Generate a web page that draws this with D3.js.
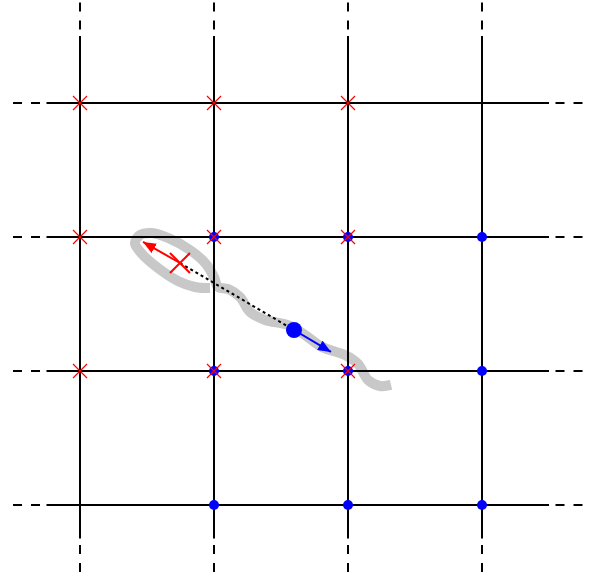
<!DOCTYPE html>
<html>
<head>
<meta charset="utf-8">
<script src="https://cdn.jsdelivr.net/npm/d3@7"></script>
<style>
html,body{margin:0;padding:0;background:#fff;}
svg{display:block;}
</style>
</head>
<body>
<svg id="chart" width="591" height="575"></svg>
<script>
// ---- data (grid units) ----
const gridU = [0, 1, 2, 3];
const gridV = [0, 1, 2, 3];
const redMarkers = [[0,3],[1,3],[2,3],[0,2],[1,2],[2,2],[0,1],[1,1],[2,1]];
const blueMarkers = [[1,2],[2,2],[3,2],[1,1],[2,1],[3,1],[1,0],[2,0],[3,0]];
const trailU = [0.970,0.858,0.731,0.582,0.463,0.410,0.448,0.537,0.657,0.821,0.940,1.000,1.030,1.104,1.194,1.269,1.381,1.552,1.679,1.806,1.978,2.075,2.149,2.239,2.321];
const trailV = [1.619,1.627,1.672,1.769,1.873,1.955,2.015,2.030,1.993,1.903,1.799,1.701,1.627,1.612,1.552,1.440,1.381,1.343,1.269,1.179,1.119,1.052,0.933,0.888,0.896];
const redCross = [0.746, 1.806];
const redArrowTip = [0.470, 1.963];
const blueDot = [1.597, 1.306];
const blueArrowTip = [1.873, 1.142];
const solidRangeU = [-0.25, 3.5];
const dashRangeU = [-0.5, 3.75];
const solidRangeV = [-0.25, 3.5];
const dashRangeV = [-0.5, 3.75];

// ---- scales ----
const x = d3.scaleLinear().domain([0, 3]).range([80, 482]);
const y = d3.scaleLinear().domain([0, 3]).range([505, 103]);

const svg = d3.select("#chart");
const defs = svg.append("defs");
function marker(id, color) {
  defs.append("marker").attr("id", id).attr("viewBox", "0 0 12 10")
    .attr("refX", 12).attr("refY", 5).attr("markerUnits", "userSpaceOnUse")
    .attr("markerWidth", 13).attr("markerHeight", 11).attr("orient", "auto")
    .append("path").attr("d", "M0,0 L12,5 L0,10 Z").attr("fill", color);
}
marker("ahRed", "#ff0000");
marker("ahBlue", "#0000ff");

// gray trail
const trail = trailU.map((u, i) => [u, trailV[i]]);
svg.append("path")
  .attr("d", d3.line().x(d => x(d[0])).y(d => y(d[1])).curve(d3.curveCatmullRom.alpha(0.5))(trail))
  .attr("fill", "none").attr("stroke", "#c8c8c8").attr("stroke-width", 10);

// grid lines
const g = svg.append("g").attr("stroke", "#000").attr("stroke-width", 2);
gridU.forEach(u => {
  g.append("line").attr("x1", x(u)).attr("x2", x(u)).attr("y1", y(solidRangeV[0])).attr("y2", y(solidRangeV[1]));
  g.append("line").attr("x1", x(u)).attr("x2", x(u)).attr("y1", y(dashRangeV[1])).attr("y2", y(solidRangeV[1])).attr("stroke-dasharray", "9,9");
  g.append("line").attr("x1", x(u)).attr("x2", x(u)).attr("y1", y(dashRangeV[0])).attr("y2", y(solidRangeV[0])).attr("stroke-dasharray", "9,9");
});
gridV.forEach(v => {
  g.append("line").attr("y1", y(v)).attr("y2", y(v)).attr("x1", x(solidRangeU[0])).attr("x2", x(solidRangeU[1]));
  g.append("line").attr("y1", y(v)).attr("y2", y(v)).attr("x1", x(dashRangeU[0])).attr("x2", x(solidRangeU[0])).attr("stroke-dasharray", "9,9");
  g.append("line").attr("y1", y(v)).attr("y2", y(v)).attr("x1", x(dashRangeU[1])).attr("x2", x(solidRangeU[1])).attr("stroke-dasharray", "9,9");
});

// blue markers
svg.append("g").selectAll("circle").data(blueMarkers).join("circle")
  .attr("cx", d => x(d[0])).attr("cy", d => y(d[1])).attr("r", 5).attr("fill", "#0000ff");

// red x markers
const crossPath = (cx, cy, s) => `M${cx-s},${cy-s}L${cx+s},${cy+s}M${cx-s},${cy+s}L${cx+s},${cy-s}`;
svg.append("g").selectAll("path").data(redMarkers).join("path")
  .attr("d", d => crossPath(x(d[0]), y(d[1]), 7))
  .attr("stroke", "#ff0000").attr("stroke-width", 1.2).attr("fill", "none");

// dotted connector
svg.append("line")
  .attr("x1", x(redCross[0])).attr("y1", y(redCross[1]))
  .attr("x2", x(blueDot[0])).attr("y2", y(blueDot[1]))
  .attr("stroke", "#000").attr("stroke-width", 2).attr("stroke-dasharray", "3,3");

// arrows
svg.append("line")
  .attr("x1", x(redCross[0])).attr("y1", y(redCross[1]))
  .attr("x2", x(redArrowTip[0])).attr("y2", y(redArrowTip[1]))
  .attr("stroke", "#ff0000").attr("stroke-width", 2).attr("marker-end", "url(#ahRed)");
svg.append("line")
  .attr("x1", x(blueDot[0])).attr("y1", y(blueDot[1]))
  .attr("x2", x(blueArrowTip[0])).attr("y2", y(blueArrowTip[1]))
  .attr("stroke", "#0000ff").attr("stroke-width", 2).attr("marker-end", "url(#ahBlue)");

// big red cross & big blue dot
svg.append("path").attr("d", crossPath(x(redCross[0]), y(redCross[1]), 10))
  .attr("stroke", "#ff0000").attr("stroke-width", 2).attr("fill", "none");
svg.append("circle").attr("cx", x(blueDot[0])).attr("cy", y(blueDot[1])).attr("r", 8).attr("fill", "#0000ff");
</script>
</body>
</html>
